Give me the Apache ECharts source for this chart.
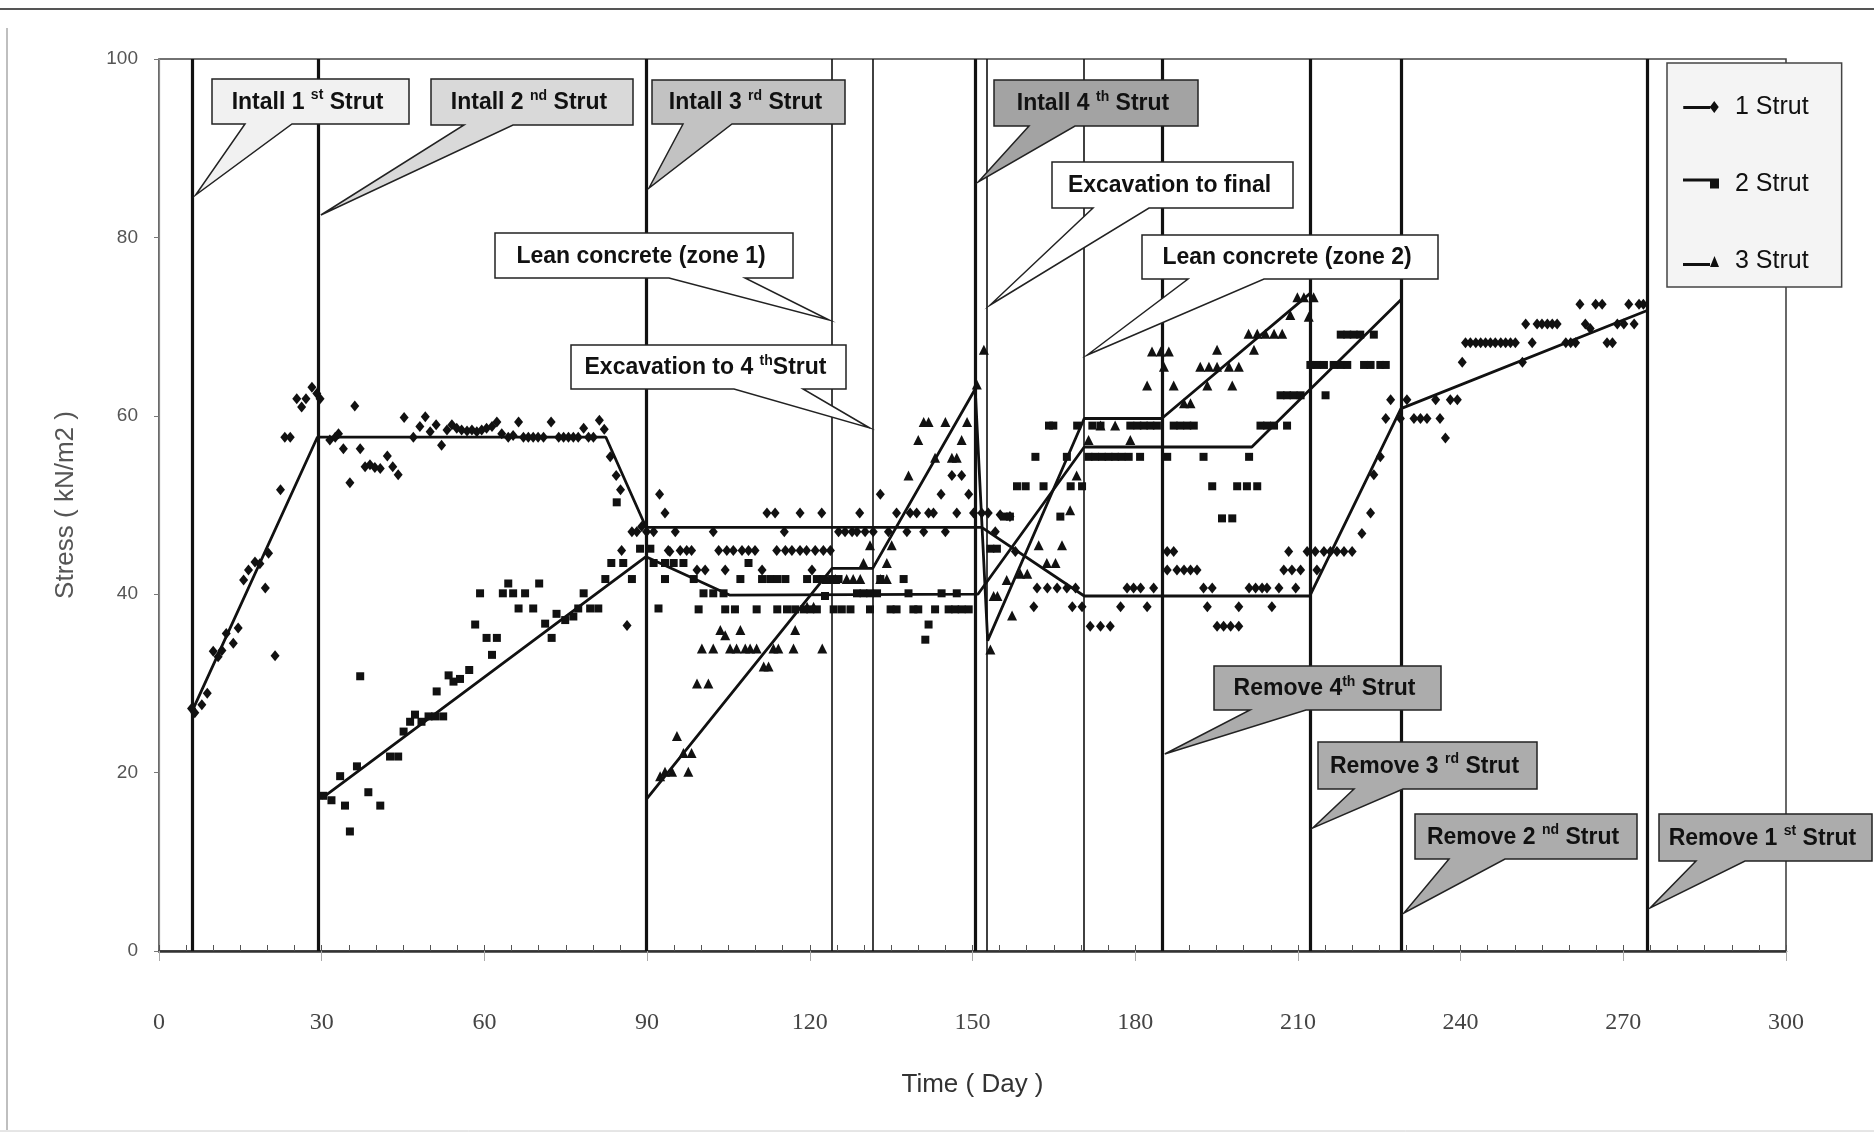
<!DOCTYPE html>
<html>
<head>
<meta charset="utf-8">
<title>Strut stress during excavation</title>
<script src="https://cdn.jsdelivr.net/npm/echarts@6/dist/echarts.min.js"></script>
<style>
  html, body { margin: 0; padding: 0; background: #fff; }
  #chart { width: 1874px; height: 1142px; }
</style>
</head>
<body>
<div id="chart"></div>
<script>
// ---- Data -------------------------------------------------------------
const xTicks = [0, 30, 60, 90, 120, 150, 180, 210, 240, 270, 300];
const yTicks = [0, 20, 40, 60, 80, 100];
const seriesNames = ['1 Strut', '2 Strut', '3 Strut'];

// Measured strut stress [day, kN/m2]
const strut1Points = [
  [6.0,27.2],[6.6,26.7],[7.9,27.6],[8.9,28.9],[10.0,33.6],[10.9,33.0],[11.6,33.7],[12.4,35.6],[13.7,34.5],[14.6,36.2],
  [15.6,41.6],[16.5,42.7],[17.7,43.6],[18.6,43.4],[19.6,40.7],[20.2,44.6],[21.4,33.1],[22.4,51.7],[23.2,57.6],[24.2,57.6],
  [25.4,61.9],[26.3,61.0],[27.1,61.9],[28.2,63.2],[29.1,62.5],[29.7,61.9],
  [31.5,57.3],[32.5,57.6],[33.1,58.0],[34.0,56.3],[35.2,52.5],[36.1,61.1],[37.1,56.3],[38.0,54.3],[38.9,54.5],[39.8,54.2],
  [40.8,54.1],[42.1,55.5],[43.1,54.3],[44.1,53.4],[45.2,59.8],[46.9,57.6],[48.1,58.8],[49.1,59.9],[50.0,58.2],[51.1,59.0],
  [52.1,56.7],[53.1,58.4],[54.0,59.0],[54.9,58.6],[55.8,58.4],[56.8,58.3],[57.7,58.4],[58.6,58.2],[59.5,58.4],[60.4,58.6],
  [61.4,58.8],[62.3,59.3],[63.2,58.0],[64.4,57.6],[65.3,57.8],[66.3,59.3],[67.2,57.6],[68.1,57.6],[69.0,57.6],[69.9,57.6],
  [70.9,57.6],[72.3,59.3],[73.7,57.6],[74.6,57.6],[75.5,57.6],[76.4,57.6],[77.3,57.6],[78.3,58.6],[79.2,57.6],[80.1,57.6],
  [81.2,59.5],[82.1,58.5],[83.2,55.4],[84.3,53.3],[85.1,51.7],[85.3,44.9],[86.3,36.5],[87.2,47.0],[88.1,47.0],[89.0,47.6],
  [89.9,47.0],[91.2,47.0],[92.3,51.2],[93.3,49.1],[94.2,44.8],
  [93.9,44.9],[95.2,47.0],[96.1,44.9],[97.3,44.9],[98.2,44.9],[99.2,42.7],[100.7,42.7],[102.2,47.0],[103.2,44.9],[104.4,42.7],
  [104.7,44.9],[105.9,44.9],[107.5,44.9],[108.7,44.9],[109.9,44.9],[111.2,42.7],[112.1,49.1],[113.6,49.1],[113.9,44.9],[115.3,47.0],
  [115.5,44.9],[116.7,44.9],[118.2,49.1],[118.2,44.9],[119.4,44.9],[120.4,42.7],[121.0,44.9],[122.2,49.1],[122.5,44.9],[123.8,44.9],
  [125.3,47.0],[126.5,47.0],[127.8,47.0],[128.7,47.0],[129.2,49.1],[130.2,47.0],[131.7,47.0],[133.0,51.2],[134.5,47.0],[136.0,49.1],
  [137.9,47.0],[138.5,49.1],[139.7,49.1],[141.0,47.0],[141.9,49.1],[142.8,49.1],[144.2,51.2],[145.0,47.0],[146.2,53.3],[147.1,49.1],
  [148.0,53.3],[149.3,51.2],[150.2,49.1],
  [151.7,49.1],[152.9,49.1],[154.2,47.0],[155.1,48.9],[156.9,48.7],[157.9,44.8],[161.3,38.6],[161.9,40.7],[163.8,40.7],[165.6,40.7],
  [167.4,40.7],[168.4,38.6],[169.0,40.7],[170.2,38.6],[171.7,36.4],[173.6,36.4],[175.4,36.4],[177.3,38.6],[178.5,40.7],[179.7,40.7],
  [181.0,40.7],[182.2,38.6],[183.4,40.7],[185.9,44.8],[187.1,44.8],[185.9,42.7],[187.7,42.7],[189.0,42.7],[190.2,42.7],[191.4,42.7],
  [192.6,40.7],[193.3,38.6],[194.2,40.7],[195.1,36.4],[196.3,36.4],[197.6,36.4],[199.1,36.4],[199.1,38.6],[201.0,40.7],[202.2,40.7],
  [203.4,40.7],[204.3,40.7],[205.2,38.6],[206.5,40.7],[207.4,42.7],[208.3,44.8],[208.9,42.7],[209.6,40.7],[210.5,42.7],[211.7,44.8],
  [213.2,44.8],[213.5,42.7],[214.8,44.8],[216.0,44.8],[217.2,44.8],[218.5,44.8],[220.0,44.8],[221.8,46.8],[223.4,49.1],[224.0,53.4],
  [225.2,55.4],[226.2,59.7],[227.1,61.8],[228.9,59.7],[230.1,61.8],[231.4,59.7],[232.6,59.7],[233.8,59.7],[235.4,61.8],[236.2,59.7],
  [237.2,57.5],[238.1,61.8],[239.4,61.8],[240.3,66.0],[240.9,68.2],[241.8,68.2],[242.8,68.2],[243.7,68.2],[244.6,68.2],[245.5,68.2],
  [246.4,68.2],[247.4,68.2],[248.3,68.2],[249.2,68.2],[250.1,68.2],[251.4,66.0],[252.0,70.3],[253.2,68.2],[254.1,70.3],[255.0,70.3],
  [256.0,70.3],[256.9,70.3],[257.8,70.3],[259.4,68.2],[260.3,68.2],[261.2,68.2],[262.0,72.5],[263.0,70.3],[263.9,69.8],[264.9,72.5],
  [266.1,72.5],[267.0,68.2],[268.0,68.2],[268.9,70.3],[270.1,70.3],[271.0,72.5],[272.0,70.3],[272.9,72.5],[273.7,72.5]
];

const strut2Points = [
  [30.3,17.4],[31.8,16.9],[33.4,19.6],[34.3,16.3],[35.2,13.4],[36.5,20.7],[37.1,30.8],[38.6,17.8],[40.8,16.3],[42.6,21.8],
  [44.1,21.8],[45.1,24.6],[46.3,25.7],[47.2,26.5],[48.4,25.7],[49.7,26.3],[50.9,26.3],[51.2,29.1],[52.4,26.3],[53.4,30.9],
  [54.3,30.2],[55.5,30.5],[57.2,31.5],[58.3,36.6],[59.2,40.1],[60.4,35.1],[61.4,33.2],[62.3,35.1],[63.4,40.1],[64.4,41.2],
  [65.3,40.1],[66.3,38.4],[67.5,40.1],[69.0,38.4],[70.1,41.2],[71.2,36.7],[72.4,35.1],[73.3,37.8],[74.9,37.1],[76.4,37.5],
  [77.3,38.4],[78.3,40.1],[79.5,38.4],[81.0,38.4],[82.3,41.7],[83.4,43.5],[84.4,50.3],[85.6,43.5],[87.2,41.7],[88.7,45.1],
  [90.6,45.1],[91.2,43.5],[92.1,38.4],[93.3,41.7],[93.3,43.5],
  [94.9,43.5],[96.7,43.5],[98.6,41.7],[99.5,38.3],[100.4,40.1],[102.2,40.1],[104.1,40.1],[104.4,38.3],[106.2,38.3],[107.2,41.7],
  [108.7,43.5],[110.2,38.3],[111.2,41.7],[112.7,41.7],[114.0,41.7],[115.5,41.7],[114.0,38.3],[115.8,38.3],[117.3,38.3],[118.9,38.3],
  [120.1,38.3],[121.3,38.3],[119.5,41.7],[121.3,41.7],[122.5,41.7],[124.1,41.7],[125.3,41.7],[122.8,39.8],[124.4,38.3],[125.9,38.3],
  [127.5,38.3],[128.7,40.1],[129.9,40.1],[131.1,40.1],[132.4,40.1],[131.1,38.3],[133.0,41.7],[134.9,38.3],[136.0,38.3],[137.3,41.7],
  [138.2,40.1],[139.1,38.3],[140.0,38.3],[141.9,36.6],[141.3,34.9],[143.1,38.3],[144.3,40.1],[145.6,38.3],[146.8,38.3],[148.0,38.3],
  [149.3,38.3],[147.1,40.1],
  [153.3,45.1],[154.5,45.1],[155.8,48.7],[156.9,48.7],[158.2,52.1],[159.8,52.1],[161.6,55.4],[163.1,52.1],[164.1,58.9],[164.9,58.9],
  [166.2,48.7],[167.4,55.4],[168.1,52.1],[170.2,52.1],[169.3,58.9],
  [171.4,55.4],[172.6,55.4],[173.9,55.4],[175.1,55.4],[176.3,55.4],[177.5,55.4],[178.8,55.4],[180.9,55.4],[185.9,55.4],[192.6,55.4],
  [201.0,55.4],[172.1,58.9],[173.6,58.9],[179.1,58.9],[180.4,58.9],[181.6,58.9],[182.8,58.9],[184.0,58.9],[187.1,58.9],[188.3,58.9],
  [189.6,58.9],[190.8,58.9],[194.2,52.1],[198.8,52.1],[200.6,52.1],[202.5,52.1],[196.0,48.5],[197.9,48.5],
  [203.1,58.9],[204.3,58.9],[205.6,58.9],[208.0,58.9],[206.8,62.3],[208.0,62.3],[209.2,62.3],[210.5,62.3],[215.1,62.3],
  [212.3,65.7],[213.5,65.7],[214.8,65.7],[216.6,65.7],[217.9,65.7],[219.1,65.7],[222.2,65.7],[223.4,65.7],[225.2,65.7],[226.2,65.7],
  [217.9,69.1],[219.1,69.1],[220.3,69.1],[221.5,69.1],[224.0,69.1]
];

const strut3Points = [
  [92.4,19.6],[93.3,20.1],[94.6,20.1],[95.5,24.1],[96.7,22.2],[97.6,20.1],[98.2,22.2],[99.2,30.0],[101.3,30.0],[100.1,33.9],
  [102.2,33.9],[103.5,36.0],[104.4,35.4],[105.3,33.9],[106.5,33.9],[107.2,36.0],[108.1,33.9],[109.0,33.9],[110.2,33.9],[111.5,31.9],
  [112.4,31.9],[113.3,33.9],[114.2,33.9],[117.0,33.9],[117.3,36.0],[122.3,33.9],[119.5,38.6],[120.7,38.6],[123.1,41.7],[124.7,41.7],
  [126.8,41.7],[128.0,41.7],[129.3,41.7],[129.9,43.5],[131.1,45.5],[133.0,41.7],[134.2,41.7],[134.2,43.5],[135.1,45.5],[138.2,53.3],
  [140.0,57.3],[141.0,59.3],[141.9,59.3],[145.0,59.3],[148.0,57.3],[149.0,59.3],[143.1,55.3],[146.2,55.3],[147.1,55.3],[150.8,63.5],
  [152.1,67.4],[153.3,33.8],[153.9,39.8],[154.6,39.8],[156.3,41.6],[157.3,37.6],[158.8,42.3],[160.1,42.3],[162.2,45.5],[163.7,43.5],
  [165.3,43.5],[166.5,45.5],[168.0,49.4],[169.2,53.3],[171.4,57.3],[173.6,58.9],[176.3,58.9],[179.1,57.3],[182.2,63.4],[187.1,63.4],
  [183.1,67.2],[184.7,67.2],[186.2,67.2],[185.3,65.5],[189.0,61.4],[190.2,61.4],[192.0,65.5],[193.6,65.5],[195.1,65.5],[197.3,65.5],
  [199.1,65.5],[193.3,63.4],[197.9,63.4],[195.1,67.4],[201.9,67.4],[200.9,69.2],[202.5,69.2],[204.0,69.2],[205.6,69.2],[207.1,69.2],
  [208.6,71.3],[212.0,71.1],[209.9,73.3],[211.1,73.3],[212.9,73.3]
];

// Fitted stress paths [day, kN/m2]
const strut1Trend = [[6.2,27.0],[29.2,57.6],[82.4,57.6],[89.8,47.5],[151.7,47.5],[170.6,39.8],[212.2,39.8],[229.0,60.8],[274.4,71.8]];
const strut2Trend = [[30.0,17.1],[89.8,44.2],[105.2,39.9],[151.0,40.0],[170.6,56.5],[201.5,56.5],[229.0,73.0]];
const strut3Trend = [[90.0,17.1],[124.1,42.9],[131.6,42.9],[150.5,63.0],[152.8,34.8],[170.6,59.7],[184.9,59.7],[212.2,73.7]];

// Construction stages (day) and their labels: [text, superscript, text]
const eventDays = [6.2, 29.3, 89.8, 124.1, 131.6, 150.5, 152.7, 170.6, 184.9, 212.2, 229.0, 274.4];
const eventLabels = [
  ['Intall 1 ', 'st', ' Strut'],
  ['Intall 2 ', 'nd', ' Strut'],
  ['Intall 3 ', 'rd', ' Strut'],
  ['Lean concrete (zone 1)', '', ''],
  ['Excavation to 4 ', 'th', 'Strut'],
  ['Intall 4 ', 'th', ' Strut'],
  ['Excavation to final', '', ''],
  ['Lean concrete (zone 2)', '', ''],
  ['Remove 4', 'th', ' Strut'],
  ['Remove 3 ', 'rd', ' Strut'],
  ['Remove 2 ', 'nd', ' Strut'],
  ['Remove 1 ', 'st', ' Strut']
];

// ---- Layout -----------------------------------------------------------
const FONT = '"Liberation Sans", Arial, sans-serif';
const INK = '#111';

// Callout boxes in page pixels: box [x0,y0,x1,y1], wedge base on the bottom edge, tip height, fill
const calloutLayout = [
  { box: [212, 79, 409, 124],   base: [245, 292],   tipY: 195, fill: '#f1f1f1' },
  { box: [431, 79, 633, 125],   base: [464, 513],   tipY: 215, fill: '#d9d9d9' },
  { box: [652, 80, 845, 124],   base: [683, 732],   tipY: 188, fill: '#c2c2c2' },
  { box: [495, 233, 793, 278],  base: [669, 745],   tipY: 320, fill: '#ffffff' },
  { box: [571, 345, 846, 389],  base: [734, 803],   tipY: 428, fill: '#ffffff' },
  { box: [994, 80, 1198, 126],  base: [1029, 1075], tipY: 182, fill: '#a3a3a3' },
  { box: [1052, 162, 1293, 208],base: [1093, 1149], tipY: 305, fill: '#ffffff' },
  { box: [1142, 235, 1438, 279],base: [1188, 1264], tipY: 355, fill: '#ffffff' },
  { box: [1214, 666, 1441, 710],base: [1250, 1306], tipY: 754, fill: '#acacac' },
  { box: [1318, 742, 1537, 789],base: [1354, 1403], tipY: 828, fill: '#acacac' },
  { box: [1415, 814, 1637, 859],base: [1449, 1505], tipY: 913, fill: '#acacac' },
  { box: [1659, 814, 1872, 861],base: [1696, 1745], tipY: 908, fill: '#acacac' }
];

const isStrutStage = (i) => /^(Intall|Remove)/.test(eventLabels[i][0]);

const legendIcons = [
  'path://M0,5h27v3H0z M31,0L35.5,6L31,12L26.5,6z',
  'path://M0,1h27v3H0z M27,1h9v10h-9z M0,12h0.1v0.1H0z',
  'path://M0,8h27v3H0z M31.5,1L36,12L27,12z M0,0h0.1v0.1H0z'
];

// ---- Chart ------------------------------------------------------------
const chart = echarts.init(document.getElementById('chart'));

function scatterSeries(name, data, symbol, size) {
  return {
    name, type: 'scatter', data, symbol, symbolSize: size,
    itemStyle: { color: INK, opacity: 1 }, z: 5, silent: true
  };
}
function trendSeries(name, data, extra) {
  return Object.assign({
    name, type: 'line', data, symbol: 'none', showSymbol: false,
    lineStyle: { color: INK, width: 2.8 }, itemStyle: { color: INK },
    z: 4, silent: true
  }, extra || {});
}

const option = {
  animation: false,
  backgroundColor: '#ffffff',
  grid: {
    left: 159, right: 88, top: 59, bottom: 191,
    show: true, borderColor: '#444', borderWidth: 1.6, backgroundColor: 'transparent'
  },
  xAxis: [
    {
      type: 'value', min: xTicks[0], max: xTicks[xTicks.length - 1], interval: xTicks[1] - xTicks[0],
      position: 'bottom',
      axisLine: { show: true, lineStyle: { color: '#333', width: 2.5 } },
      axisTick: { show: true, inside: false, length: 10, lineStyle: { color: '#aaa', width: 1 } },
      axisLabel: { margin: 60, fontFamily: '"Liberation Serif", "Times New Roman", serif', fontSize: 24, color: '#444' },
      splitLine: { show: false },
      name: 'Time ( Day )', nameLocation: 'middle', nameGap: 121,
      nameTextStyle: { fontFamily: FONT, fontSize: 26, color: '#333' }
    },
    {
      type: 'value', min: 0, max: 300, interval: 5, position: 'bottom',
      axisLine: { show: false },
      axisTick: { show: true, inside: true, length: 6, lineStyle: { color: '#555', width: 1 } },
      axisLabel: { show: false }, splitLine: { show: false }
    }
  ],
  yAxis: {
    type: 'value', min: yTicks[0], max: yTicks[yTicks.length - 1], interval: yTicks[1] - yTicks[0],
    axisLine: { show: true, lineStyle: { color: '#888', width: 1.2 } },
    axisTick: { show: true, length: 5, lineStyle: { color: '#777' } },
    axisLabel: { margin: 21, fontFamily: FONT, fontSize: 19, color: '#555' },
    splitLine: { show: false },
    name: 'Stress ( kN/m2 )', nameLocation: 'middle', nameGap: 80, nameRotate: 90,
    nameTextStyle: { fontFamily: FONT, fontSize: 26, color: '#555' }
  },
  legend: {
    orient: 'vertical', left: 1667, top: 63,
    padding: [30, 33, 12, 16], itemGap: 49, itemWidth: 36, itemHeight: 12,
    backgroundColor: '#f4f4f4', borderColor: '#444', borderWidth: 1.5,
    selectedMode: false,
    textStyle: { fontFamily: FONT, fontSize: 25, color: INK, lineHeight: 28, padding: [0, 0, 0, 11] },
    data: seriesNames.map((n, i) => ({ name: n, icon: legendIcons[i] }))
  },
  series: [
    scatterSeries(seriesNames[0], strut1Points, 'diamond', [9, 11]),
    scatterSeries(seriesNames[1], strut2Points, 'rect', 8),
    scatterSeries(seriesNames[2], strut3Points, 'triangle', 10),
    trendSeries(seriesNames[0], strut1Trend, {
      markLine: {
        silent: true, symbol: ['none', 'none'], label: { show: false }, animation: false,
        data: eventDays.map((d, i) => ({
          xAxis: d,
          lineStyle: { color: INK, type: 'solid', width: isStrutStage(i) ? 3.2 : 1.6 }
        }))
      }
    }),
    trendSeries(seriesNames[1], strut2Trend),
    trendSeries(seriesNames[2], strut3Trend)
  ]
};
chart.setOption(option);

// ---- Callouts and page frame -------------------------------------------
const graphics = [
  { type: 'line', shape: { x1: 0, y1: 9, x2: 1874, y2: 9 }, style: { stroke: '#555', lineWidth: 2 }, silent: true, z: 50 },
  { type: 'line', shape: { x1: 7, y1: 28, x2: 7, y2: 1130 }, style: { stroke: '#aaa', lineWidth: 1.5 }, silent: true, z: 50 },
  { type: 'line', shape: { x1: 0, y1: 1131, x2: 1874, y2: 1131 }, style: { stroke: '#ccc', lineWidth: 1 }, silent: true, z: 50 }
];

const richStyles = {
  n: { fontFamily: FONT, fontWeight: 'bold', fontSize: 23, fill: INK, lineHeight: 28 },
  s: { fontFamily: FONT, fontWeight: 'bold', fontSize: 14, fill: INK, lineHeight: 16, verticalAlign: 'top' }
};

eventDays.forEach((day, i) => {
  const L = calloutLayout[i];
  const [x0, y0, x1, y1] = L.box;
  const lineX = chart.convertToPixel({ xAxisIndex: 0 }, day);
  const tipX = x0 > lineX ? lineX + 3 : lineX - 3;
  const pts = [[x0, y0], [x1, y0], [x1, y1], [L.base[1], y1], [tipX, L.tipY], [L.base[0], y1], [x0, y1]];
  graphics.push({
    type: 'polygon', shape: { points: pts },
    style: { fill: L.fill, stroke: '#222', lineWidth: 1.5 },
    silent: true, z: 100
  });
  const parts = eventLabels[i];
  let text = '{n|' + parts[0] + '}';
  if (parts[1]) text += '{s|' + parts[1] + '}';
  if (parts[2]) text += '{n|' + parts[2] + '}';
  graphics.push({
    type: 'text', silent: true, z: 101,
    style: {
      text, rich: richStyles,
      x: (x0 + x1) / 2 - 3, y: (y0 + y1) / 2 + 1,
      align: 'center', verticalAlign: 'middle'
    }
  });
});

chart.setOption({ graphic: graphics });
</script>
</body>
</html>
